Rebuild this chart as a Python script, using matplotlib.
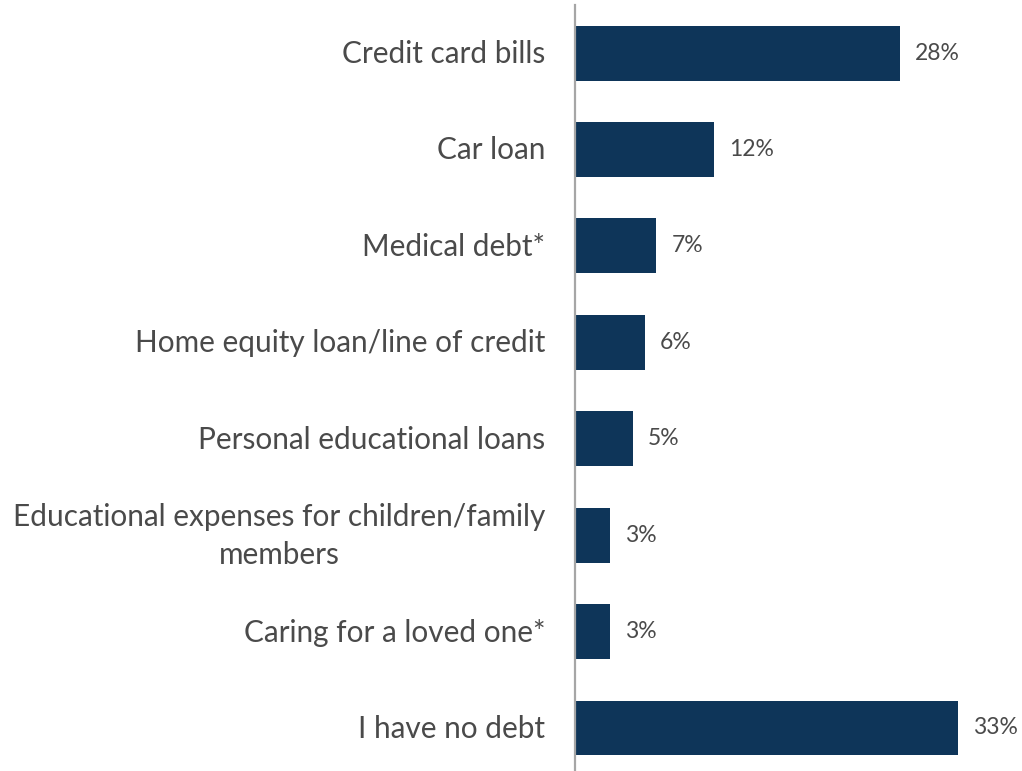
import matplotlib
matplotlib.use("Agg")
import matplotlib.pyplot as plt

plt.rcParams['font.family'] = ['Lato', 'DejaVu Sans']

categories = [
    "Credit card bills",
    "Car loan",
    "Medical debt*",
    "Home equity loan/line of credit",
    "Personal educational loans",
    "Educational expenses for children/family\nmembers",
    "Caring for a loved one*",
    "I have no debt",
]
shares = [28, 12, 7, 6, 5, 3, 3, 33]

BAR = "#0E3559"
TEXT = "#4A4A4A"

fig = plt.figure(figsize=(10.22, 7.71), dpi=100)
ax = fig.add_axes([575 / 1022, 0, 441 / 1022, 766 / 771])

pos = list(range(len(categories)))
ax.barh(pos, shares, height=0.57, color=BAR)
ax.set_ylim(7.446, -0.498)
ax.set_xlim(0, 38)

# percentage labels to the right of each bar
for y, v in zip(pos, shares):
    ax.text(v + 1.3, y, f"{v}%", va="center", ha="left", fontsize=16.5, color=TEXT)

# category names, right-aligned against the axis line
for y, lab in zip(pos, categories):
    ax.annotate(lab, xy=(0, y), xycoords=("axes fraction", "data"),
                xytext=(-30, -1), textcoords="offset pixels",
                ha="right", va="center", multialignment="center",
                fontsize=21.4, color=TEXT, linespacing=1.45)

for s in ["top", "right", "bottom"]:
    ax.spines[s].set_visible(False)
ax.spines["left"].set_color("#A6A6A6")
ax.spines["left"].set_linewidth(1.6)
ax.set_xticks([])
ax.set_yticks([])

fig.savefig("out.png", dpi=100, facecolor="white")
